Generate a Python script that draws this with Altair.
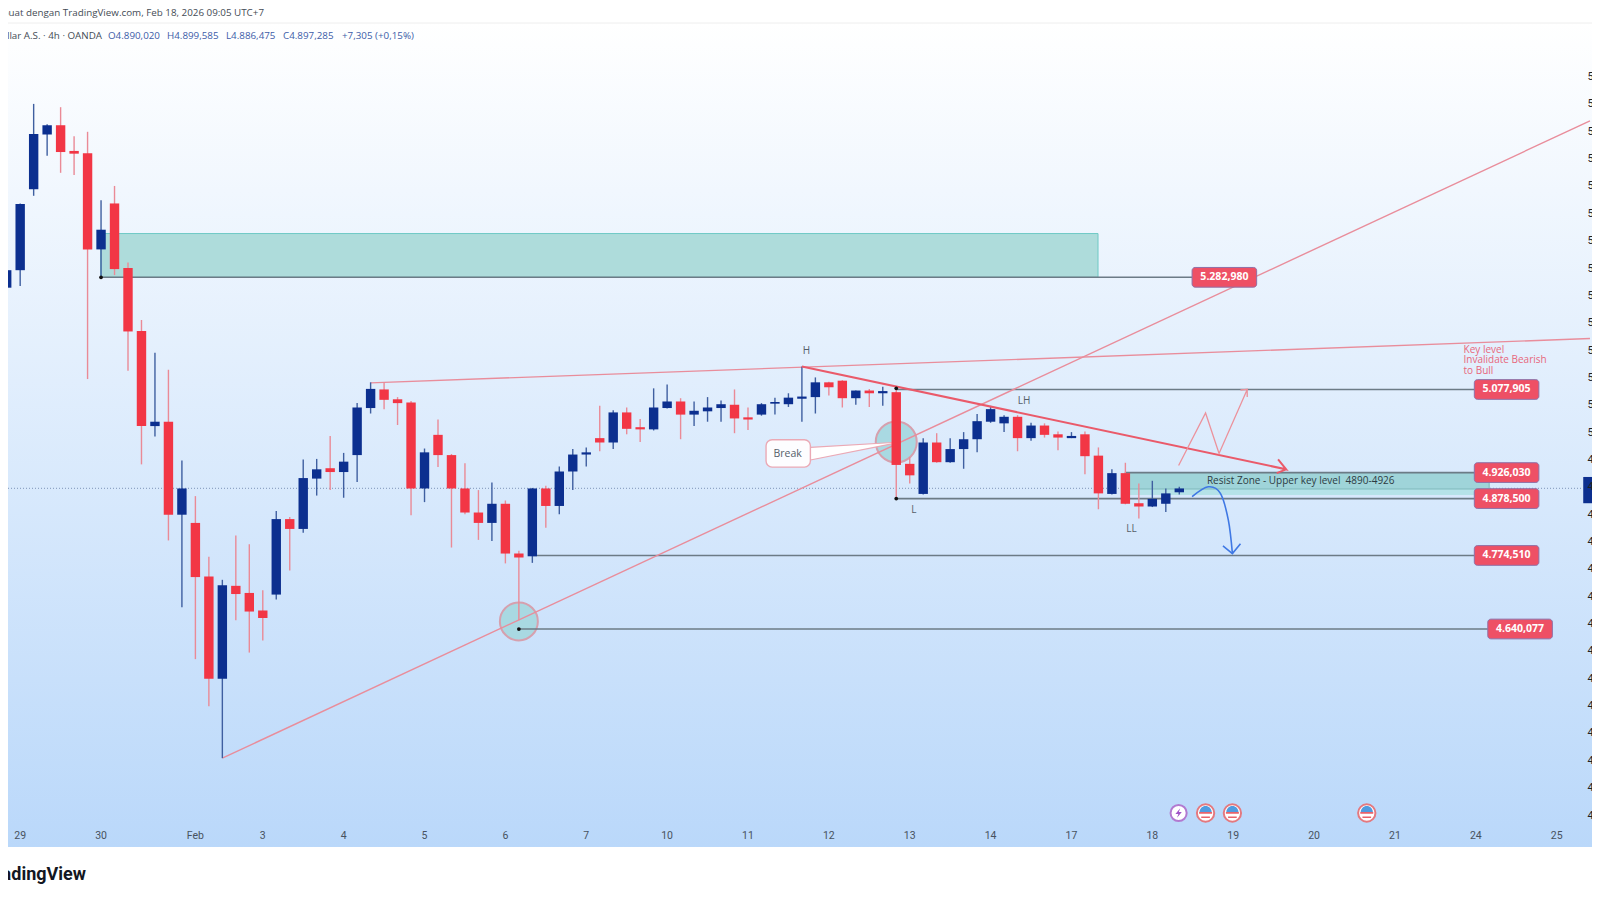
import altair as alt
import pandas as pd

# candles, 4h bars, oldest first
opens = [5264, 5296, 5444, 5544, 5561, 5514, 5510, 5334, 5418, 5300, 5185, 5011, 5019, 4849, 4834, 4736, 4549, 4719, 4706, 4674, 4703, 4841,
         4823, 4915, 4934, 4927, 4958, 5044, 5078, 5060, 5054, 4897, 4995, 4958, 4897, 4853, 4834, 4869, 4778, 4773, 4897, 4865, 4928, 4959,
         4989, 4981, 5036, 5009, 5005, 5044, 5056, 5032, 5038, 5044, 5050, 5027, 5032, 5052, 5051, 5061, 5064, 5091, 5094, 5062, 5076, 5071,
         5073, 4942, 4887, 4981, 4945, 4969, 4987, 5019, 5016, 5028, 4989, 5012, 4996, 4989, 4996, 4957, 4887, 4925, 4870, 4864, 4869, 4890]
highs = [5306, 5418, 5600, 5563, 5594, 5541, 5549, 5424, 5450, 5310, 5205, 5145, 5114, 4948, 4883, 4772, 4730, 4811, 4795, 4711, 4856, 4845,
         4950, 4951, 4993, 4962, 5053, 5091, 5091, 5064, 5057, 4970, 5023, 4960, 4943, 4894, 4908, 4875, 4783, 4898, 4902, 4937, 4969, 4972,
         5048, 5040, 5045, 5024, 5080, 5087, 5062, 5056, 5064, 5058, 5078, 5045, 5053, 5063, 5071, 5120, 5100, 5092, 5095, 5076, 5079, 5083,
         5080, 4954, 4989, 4998, 4989, 5000, 5033, 5048, 5031, 5031, 5017, 5016, 5001, 5000, 5001, 4972, 4932, 4944, 4906, 4911, 4897, 4900]
lows = [5237, 5267, 5432, 5505, 5474, 5470, 5097, 5283, 5287, 5112, 4941, 4992, 4802, 4680, 4585, 4499, 4404, 4656, 4597, 4619, 4694, 4747,
        4816, 4884, 4894, 4880, 4909, 5034, 5042, 5013, 4848, 4872, 4936, 4789, 4850, 4803, 4801, 4760, 4656, 4761, 4825, 4850, 4894, 4937,
        4965, 4969, 4996, 4982, 5003, 5043, 4987, 5011, 5019, 5019, 4998, 5004, 5030, 5032, 5046, 5019, 5034, 5067, 5045, 5050, 5046, 5048,
        4879, 4906, 4886, 4944, 4944, 4933, 4963, 5017, 5000, 4965, 4984, 4990, 4967, 4989, 4923, 4859, 4886, 4868, 4842, 4863, 4854, 4886]
closes = [5296, 5417, 5545, 5561, 5512, 5509, 5334, 5370, 5298, 5184, 5011, 5019, 4849, 4897, 4735, 4549, 4720, 4704, 4672, 4660, 4841, 4823,
          4916, 4932, 4927, 4946, 5045, 5079, 5059, 5053, 4897, 4963, 4958, 4897, 4853, 4834, 4869, 4778, 4771, 4897, 4865, 4928, 4959, 4963,
          4981, 5036, 5006, 5005, 5045, 5056, 5032, 5039, 5045, 5051, 5025, 5023, 5051, 5055, 5063, 5065, 5091, 5082, 5062, 5076, 5071, 5075,
          4940, 4921, 4981, 4945, 4969, 4987, 5020, 5042, 5028, 4989, 5012, 4995, 4990, 4993, 4956, 4888, 4925, 4869, 4864, 4878, 4888, 4897]

last_price = 4897.285

# axis
day_labels = ["29", "30", "Feb", "3", "4", "5", "6", "7", "10", "11", "12", "13", "14", "17", "18", "19", "20", "21", "24", "25"]
day_bars = [1, 7, 14, 19, 25, 31, 37, 43, 49, 55, 61, 67, 73, 79, 85, 91, 97, 103, 109, 115]
price_ticks = list(range(4300, 5700, 50))

# drawings, in bar number and price
levels = [5282.98, 5077.905, 4926.03, 4878.5, 4774.51, 4640.077]
level_names = ["5.282,980", "5.077,905", "4.926,030", "4.878,500", "4.774,510", "4.640,077"]
level_from = [7.0, 66.0, 82.97, 66.0, 38.99, 38.0]
tag_from = [87.95, 108.89, 108.89, 108.89, 108.89, 109.89]
tag_to = [92.74, 113.68, 113.68, 113.68, 113.68, 114.68]

zones = [
    dict(x=6.98, x2=80.97, y=5283, y2=5363, fill="#aedcdb", stroke="#6fc9c6"),
    dict(x=82.97, x2=109.99, y=4886, y2=4926, fill="#b5e2e8", stroke="#b5e2e8"),
    dict(x=82.97, x2=109.99, y=4896, y2=4926, fill="#9fd4d9", stroke="#7fb9bb"),
]
thin_lines = [
    dict(x=16.0, y=4404, x2=117.47, y2=5569),
    dict(x=27.0, y=5090, x2=117.47, y2=5171),
]
trend_bar = [59.0, 94.93, 94.33, 94.93, 94.23]
trend_px = [5120, 4932, 4950, 4932, 4925]
up_bar = [86.95, 88.95, 89.95, 92.04, 91.54, 92.04, 92.04]
up_px = [4939, 5035, 4961, 5078, 5077, 5078, 5064]
down_bar = [87.95, 89.15, 90.05, 90.64, 90.94]
down_px = [4882, 4900, 4888, 4839, 4778]
down_head_bar = [90.24, 90.94, 91.54]
down_head_px = [4792, 4778, 4796]
circle_bar = [38.0, 66.0]
circle_px = [4654, 4982]
circle_size = [1444, 1681]
dot_bar = [7.0, 66.0, 66.0, 38.0]
dot_px = [5283, 5080, 4878.5, 4640]
wedge_bar = [59.63, 65.76]
wedge_top = [4972, 4981]
wedge_low = [4949, 4979]

notes = ["H", "L", "LH", "LL"]
note_bar = [59.33, 67.31, 75.49, 83.46]
note_px = [5149, 4858, 5056, 4822]
key_lines = ["Key level", "Invalidate Bearish", "to Bull"]
key_px = [5150, 5131, 5112]
event_bars = [88.95, 90.94, 100.91]
bolt_bar = [86.95]

header = "Dibuat dengan TradingView.com, Feb 18, 2026 09:05 UTC+7"
symbol = "Emas / Dollar A.S. · 4h · OANDA"
ohlc = ["O4.890,020", "H4.899,585", "L4.886,475", "C4.897,285", "+7,305 (+0,15%)"]
ohlc_left = [100, 159, 218, 275, 334]

W, H = 1579, 884
FONT = "Open Sans"
RED, BLUE = "#f23645", "#0c2f8f"

bars = pd.DataFrame({"i": range(len(opens)), "o": opens, "h": highs, "l": lows, "c": closes})
bars["body"] = [BLUE if c >= o else RED for o, c in zip(opens, closes)]
bars["wick"] = ["#3f5fa0" if c >= o else "#ea8a96" for o, c in zip(opens, closes)]

# padding=0: bars would otherwise pull the continuous x range in by their width
xs = alt.Scale(domain=[0.0965, 117.25], nice=False, zero=False, padding=0)
ys = alt.Scale(domain=[4159.3, 5775.3], nice=False, zero=False)
y_axis = alt.Axis(
    values=price_ticks, orient="right", domain=False, ticks=False, grid=False, labelPadding=0, zindex=1,
    labelFontSize=11, labelColor="#222222", labelFont="Roboto", labelOverlap=False,
    labelExpr="replace(format(datum.value, ',.0f'), ',', '.') + ',000'",
)


def X(f):
    return alt.X(f, type="quantitative", scale=xs, axis=None)


def Y(f):
    return alt.Y(f, type="quantitative", scale=ys, axis=y_axis, title=None)


def static_text(text, x, y, **kw):
    return alt.Chart(pd.DataFrame({"t": [text]})).mark_text(baseline="middle", **kw).encode(
        x=alt.value(x), y=alt.value(y), text="t:N"
    )


def path(bar_list, px_list, **kw):
    df = pd.DataFrame({"x": bar_list, "y": px_list, "n": range(len(bar_list))})
    return alt.Chart(df).mark_line(**kw).encode(x=X("x"), y=Y("y"), order="n:Q")


background = alt.Chart(pd.DataFrame({"a": [0]})).mark_rect(
    fill=alt.Gradient(
        gradient="linear",
        stops=[alt.GradientStop(color="#ffffff", offset=0), alt.GradientStop(color="#bad8fa", offset=1)],
        x1=0, x2=0, y1=0, y2=1,
    )
).encode(x=alt.value(-8), x2=alt.value(1600), y=alt.value(15), y2=alt.value(839))
top_rule = alt.Chart(pd.DataFrame({"a": [0]})).mark_rule(color="#eeeeee", strokeWidth=1).encode(
    x=alt.value(0), x2=alt.value(1584), y=alt.value(15)
)

# y axis lives here so the clipped price labels show at the right edge
last_line = alt.Chart(pd.DataFrame({"y": [last_price]})).mark_rule(
    color="#7f94b8", strokeDash=[1, 2], strokeWidth=1
).encode(x=alt.value(0), x2=alt.value(1575), y=Y("y"))

zone_layers = [
    alt.Chart(pd.DataFrame([z])).mark_rect(fill=z["fill"], stroke=z["stroke"], strokeWidth=1).encode(
        x=X("x"), x2="x2:Q", y=Y("y"), y2="y2:Q"
    )
    for z in zones
]

circles = alt.Chart(pd.DataFrame({"x": circle_bar, "y": circle_px, "s": circle_size})).mark_point(
    filled=True, fill="#a9d9e2", stroke="#d6a0ae", strokeWidth=2, opacity=1
).encode(x=X("x"), y=Y("y"), size=alt.Size("s:Q", scale=None, legend=None))

level_df = pd.DataFrame({"y": levels, "x": level_from, "x2": tag_from, "tag": level_names, "t1": tag_from, "t2": tag_to})
level_df["y1"] = level_df["y"] - 18
level_df["y2"] = level_df["y"] + 18
level_df["mid"] = (level_df["t1"] + level_df["t2"]) / 2
level_lines = alt.Chart(level_df).mark_rule(color="#6c7b86", strokeWidth=1.6).encode(x=X("x"), x2="x2:Q", y=Y("y"))

thin = [path([s["x"], s["x2"]], [s["y"], s["y2"]], color="#e98d9b", strokeWidth=1.4) for s in thin_lines]
trend = path(trend_bar, trend_px, color="#ea5a6a", strokeWidth=2)
up_path = path(up_bar, up_px, color="#ec929c", strokeWidth=1.3)
down_path = path(down_bar, down_px, color="#3f78e4", strokeWidth=1.6, interpolate="cardinal")
down_head = path(down_head_bar, down_head_px, color="#3f78e4", strokeWidth=1.6)

wedge = alt.Chart(pd.DataFrame({"x": wedge_bar, "y": wedge_top, "y2": wedge_low})).mark_area(
    color="#ffffff", opacity=1
).encode(x=X("x"), y=Y("y"), y2="y2:Q")
wedge_a = path(wedge_bar, wedge_top, color="#eba9b5", strokeWidth=1.2)
wedge_b = path(wedge_bar, wedge_low, color="#eba9b5", strokeWidth=1.2)
break_box = alt.Chart(pd.DataFrame({"x": [56.34], "x2": [59.63], "y": [4936], "y2": [4986]})).mark_rect(
    fill="#fdfdff", stroke="#eba9b5", strokeWidth=1.4, cornerRadius=6
).encode(x=X("x"), x2="x2:Q", y=Y("y"), y2="y2:Q")
break_text = alt.Chart(pd.DataFrame({"x": [57.94], "y": [4960], "t": ["Break"]})).mark_text(
    font=FONT, fontSize=10.5, color="#555f6a"
).encode(x=X("x"), y=Y("y"), text="t:N")

wicks = alt.Chart(bars).mark_rule(strokeWidth=1.4).encode(
    x=X("i"), y=Y("l"), y2="h:Q", color=alt.Color("wick:N", scale=None, legend=None)
)
bodies = alt.Chart(bars).transform_calculate(
    top="max(datum.o, datum.c)", bot="min(datum.o, datum.c)"
).mark_bar(size=9.4).encode(
    x=X("i"), y=Y("bot:Q"), y2="top:Q", color=alt.Color("body:N", scale=None, legend=None)
)

dots = alt.Chart(pd.DataFrame({"x": dot_bar, "y": dot_px})).mark_point(
    filled=True, color="#111111", size=14, opacity=1
).encode(x=X("x"), y=Y("y"))

tags = alt.Chart(level_df).mark_rect(fill="#ee5065", stroke="#8f6fa6", strokeWidth=1, cornerRadius=3).encode(
    x=X("t1"), x2="t2:Q", y=Y("y1"), y2="y2:Q"
)
tag_text = alt.Chart(level_df).mark_text(font=FONT, fontSize=10.5, fontWeight="bold", color="#ffffff").encode(
    x=X("mid"), y=Y("y"), text="tag:N"
)
note_text = alt.Chart(pd.DataFrame({"x": note_bar, "y": note_px, "t": notes})).mark_text(
    font=FONT, fontSize=10, color="#555f6a"
).encode(x=X("x"), y=Y("y"), text="t:N")
zone_text = alt.Chart(pd.DataFrame({"x": [89.05], "y": [4911], "t": ["Resist Zone - Upper key level\u00a0 4890-4926"]})).mark_text(
    font=FONT, fontSize=10, color="#2d3b42", align="left"
).encode(x=X("x"), y=Y("y"), text="t:N")
key_text = alt.Chart(pd.DataFrame({"x": [108.09] * 3, "y": key_px, "t": key_lines})).mark_text(
    font=FONT, fontSize=10, color="#e8677c", align="left"
).encode(x=X("x"), y=Y("y"), text="t:N")

last_tag = alt.Chart(pd.DataFrame({"x": [116.97], "x2": [117.66], "y": [4870], "y2": [4918]})).mark_rect(
    fill=BLUE
).encode(x=X("x"), x2="x2:Q", y=Y("y"), y2="y2:Q")

day_text = alt.Chart(pd.DataFrame({"x": day_bars, "t": day_labels})).mark_text(
    font="Roboto", fontSize=10.5, color="#48525e"
).encode(x=X("x"), y=alt.value(827.5), text="t:N")

# calendar badges above the time axis
flag_df = pd.DataFrame({"x": event_bars})
badge = alt.Chart(flag_df).mark_point(
    filled=True, fill="#ffffff", stroke="#e4797f", strokeWidth=2, size=300, opacity=1
).encode(x=X("x"), y=alt.value(805))
flag_blue = alt.Chart(flag_df).mark_point(
    filled=True, color="#4f9ce0", size=300, opacity=1, strokeWidth=0,
    shape="M-0.7,-0.1 A0.7,0.7 0 0 1 0.7,-0.1 Z",
).encode(x=X("x"), y=alt.value(805))
flag_red = alt.Chart(flag_df).mark_point(
    filled=True, color="#e8636b", size=300, opacity=1, strokeWidth=0,
    shape="M-0.75,-0.12H0.75V0.1H-0.75Z M-0.5,0.4H0.5V0.58H-0.5Z",
).encode(x=X("x"), y=alt.value(805))
bolt_df = pd.DataFrame({"x": bolt_bar})
bolt_ring = alt.Chart(bolt_df).mark_point(
    filled=True, fill="#ffffff", stroke="#b27ad0", strokeWidth=2, size=260, opacity=1
).encode(x=X("x"), y=alt.value(805))
bolt = alt.Chart(bolt_df).mark_point(
    filled=True, color="#a054c8", size=260, opacity=1, strokeWidth=0,
    shape="M0.2,-0.6 L-0.4,0.12 L-0.03,0.12 L-0.2,0.6 L0.4,-0.12 L0.03,-0.12 Z",
).encode(x=X("x"), y=alt.value(805))

heads = [
    static_text(header, 256, 4.7, font=FONT, fontSize=9.8, color="#444b55", align="right"),
    static_text(symbol, 94, 28, font=FONT, fontSize=9.8, color="#444b55", align="right"),
    static_text("TradingView", 78, 867, font="Roboto", fontSize=18, fontWeight="bold", color="#131722", align="right"),
] + [
    static_text(t, x, 28, font=FONT, fontSize=9.8, color="#3d5ca8", align="left")
    for t, x in zip(ohlc, ohlc_left)
]

chart = alt.layer(
    background, top_rule, last_line, *zone_layers, circles, level_lines, *thin, wedge, wedge_a, wedge_b,
    wicks, bodies, trend, up_path, down_path, down_head, dots, break_box, break_text,
    tags, tag_text, note_text, zone_text, key_text, last_tag, day_text,
    badge, flag_blue, flag_red, bolt_ring, bolt, *heads,
).properties(
    width=W, height=H, autosize=alt.AutoSizeParams(type="none"),
    padding={"left": 0, "top": 0, "right": 5, "bottom": 0}, background="#ffffff",
).configure_view(stroke=None)

chart.save("out.html", embed_options={"renderer": "svg", "actions": False})
